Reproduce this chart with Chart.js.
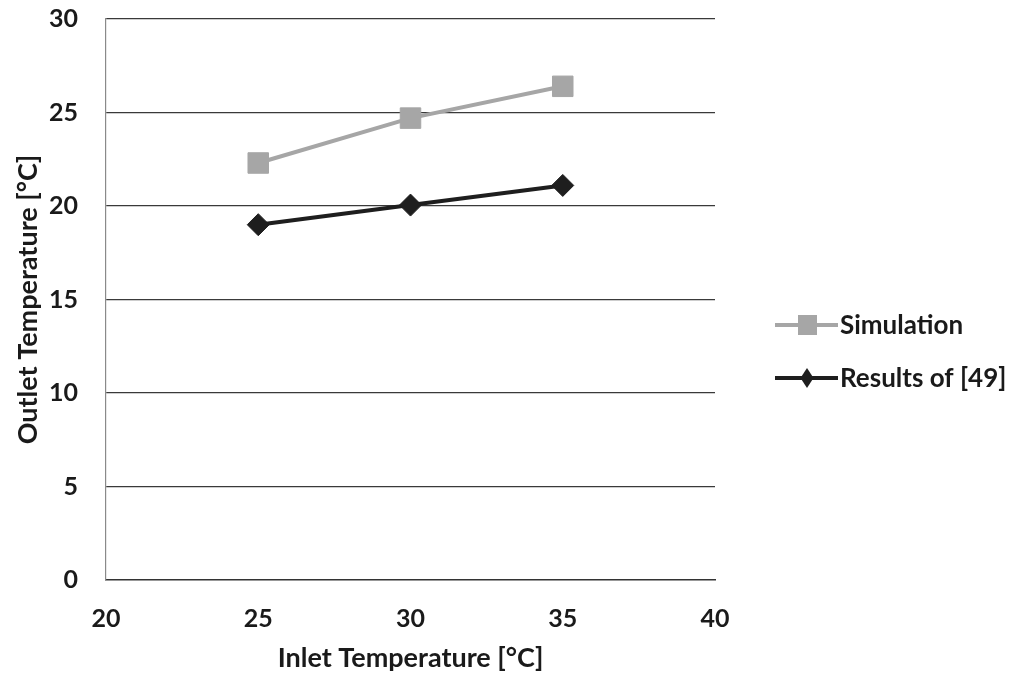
<!DOCTYPE html>
<html>
<head>
<meta charset="utf-8">
<script src="https://cdn.jsdelivr.net/npm/chart.js@4.4.1/dist/chart.umd.min.js"></script>
<style>
  html, body { margin: 0; padding: 0; background: #fff; }
  #wrap { width: 1011px; height: 678px; }
</style>
</head>
<body>
<div id="wrap"><canvas id="tempChart"></canvas></div>
<script>
// inlet temperatures (x) and outlet temperatures (y)
const inletTemps = [25, 30, 35];
const simulationOutlet = [22.3, 24.7, 26.4];
const resultsOutlet = [19.0, 20.05, 21.1];
const seriesNames = ['Simulation', 'Results of [49]'];
const xTicks = [20, 25, 30, 35, 40];
const yTicks = [0, 5, 10, 15, 20, 25, 30];

const FONT = 'Lato, "Open Sans", sans-serif';

function toPoints(values) {
    return inletTemps.map((x, i) => ({ x: x, y: values[i] }));
}

// legend drawn by hand so each entry shows line + marker like the series
const sideLegend = {
    id: 'sideLegend',
    afterDraw(chart) {
        const ctx = chart.ctx;
        const rows = [325, 378];
        chart.data.datasets.forEach((ds, i) => {
            const y = rows[i];
            const x0 = 775, x1 = 838, xm = 807;
            ctx.save();
            ctx.strokeStyle = ds.borderColor;
            ctx.lineWidth = ds.borderWidth;
            ctx.beginPath();
            ctx.moveTo(x0, y);
            ctx.lineTo(x1, y);
            ctx.stroke();
            ctx.fillStyle = ds.pointBackgroundColor;
            if (ds.pointStyle === 'rect') {
                ctx.fillRect(xm - 9, y - 10, 19, 20);
            } else {
                ctx.beginPath();
                ctx.moveTo(xm, y - 10);
                ctx.lineTo(xm + 6.5, y);
                ctx.lineTo(xm, y + 10);
                ctx.lineTo(xm - 6.5, y);
                ctx.closePath();
                ctx.fill();
            }
            ctx.fillStyle = '#1a1a1a';
            ctx.font = 'bold 26px ' + FONT;
            ctx.textBaseline = 'middle';
            ctx.textAlign = 'left';
            ctx.fillText(ds.label, x1 + 2, y + 1);
            ctx.restore();
        });
    }
};

new Chart(document.getElementById('tempChart'), {
    type: 'line',
    data: {
        datasets: [{
            label: seriesNames[0],
            data: toPoints(simulationOutlet),
            borderColor: '#a6a6a6',
            borderWidth: 4,
            pointStyle: 'rect',
            pointRadius: 14.5,
            pointBackgroundColor: '#a6a6a6',
            pointBorderColor: '#a6a6a6',
            pointBorderWidth: 1,
            tension: 0
        }, {
            label: seriesNames[1],
            data: toPoints(resultsOutlet),
            borderColor: '#1e1e1e',
            borderWidth: 4,
            pointStyle: 'rectRot',
            pointRadius: 11,
            pointBackgroundColor: '#1e1e1e',
            pointBorderColor: '#1e1e1e',
            pointBorderWidth: 1,
            tension: 0
        }]
    },
    options: {
        responsive: true,
        maintainAspectRatio: false,
        animation: false,
        layout: {
            autoPadding: false,
            padding: { top: 19, right: 296, bottom: 0, left: 0 }
        },
        plugins: {
            legend: { display: false },
            tooltip: { enabled: false }
        },
        scales: {
            x: {
                type: 'linear',
                min: 20,
                max: 40,
                afterBuildTicks(axis) { axis.ticks = xTicks.map(v => ({ value: v })); },
                afterFit(axis) { axis.height = 98; },
                grid: { display: false, drawTicks: false },
                border: { display: true, color: '#333', width: 1.5 },
                ticks: {
                    padding: 24,
                    color: '#1a1a1a',
                    font: { family: FONT, size: 25, weight: 'bold' }
                },
                title: {
                    display: true,
                    text: 'Inlet Temperature [°C]',
                    color: '#1a1a1a',
                    padding: { top: 0 },
                    font: { family: FONT, size: 27, weight: 'bold' }
                }
            },
            y: {
                min: 0,
                max: 30,
                afterBuildTicks(axis) { axis.ticks = yTicks.map(v => ({ value: v })); },
                afterFit(axis) { axis.width = 106; },
                grid: {
                    // invisible tick marks just push the labels away from the axis
                    drawTicks: true,
                    tickLength: 27,
                    tickColor: 'rgba(0,0,0,0)',
                    color: ctx => ctx.tick.value === 0 ? 'rgba(0,0,0,0)' : '#3a3a3a',
                    lineWidth: 1.2
                },
                border: { display: true, color: '#8a8a8a', width: 1.2 },
                ticks: {
                    padding: 1,
                    color: '#1a1a1a',
                    font: { family: FONT, size: 25, weight: 'bold' }
                },
                title: {
                    display: true,
                    text: 'Outlet Temperature [°C]',
                    color: '#1a1a1a',
                    padding: { top: 12, bottom: 0 },
                    font: { family: FONT, size: 27, weight: 'bold' }
                }
            }
        }
    },
    plugins: [sideLegend]
});
</script>
</body>
</html>
